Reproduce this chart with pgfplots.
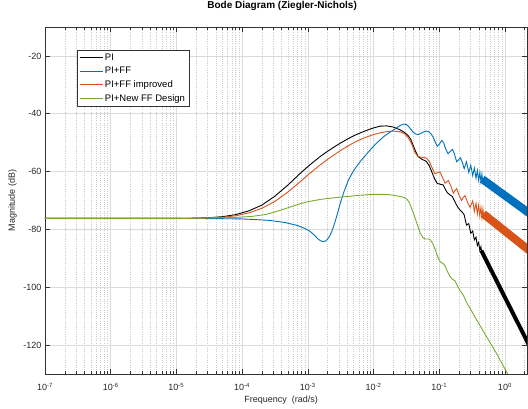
\documentclass[border=0pt]{standalone}
\usepackage{fontspec}
\setmainfont{Liberation Sans}
\usepackage{pgfplots}
\pgfplotsset{compat=1.18}
\definecolor{mblue}{RGB}{0,114,189}
\definecolor{morange}{RGB}{217,83,25}
\definecolor{mgreen}{RGB}{119,172,48}
\begin{document}
\begin{tikzpicture}
\useasboundingbox (-45pt,-35pt) rectangle (483pt,374pt);
\begin{axis}[
 scale only axis, width=482pt, height=347pt,
 xmin=-7, xmax=0.336, ymin=-130, ymax=-10,
 xtick={-7,-6,-5,-4,-3,-2,-1,0},
 xticklabels={10\textsuperscript{-7},10\textsuperscript{-6},10\textsuperscript{-5},10\textsuperscript{-4},10\textsuperscript{-3},10\textsuperscript{-2},10\textsuperscript{-1},10\textsuperscript{0}},
 minor xtick={-6.699,-6.523,-6.398,-6.301,-6.222,-6.155,-6.097,-6.046,
  -5.699,-5.523,-5.398,-5.301,-5.222,-5.155,-5.097,-5.046,
  -4.699,-4.523,-4.398,-4.301,-4.222,-4.155,-4.097,-4.046,
  -3.699,-3.523,-3.398,-3.301,-3.222,-3.155,-3.097,-3.046,
  -2.699,-2.523,-2.398,-2.301,-2.222,-2.155,-2.097,-2.046,
  -1.699,-1.523,-1.398,-1.301,-1.222,-1.155,-1.097,-1.046,
  -0.699,-0.523,-0.398,-0.301,-0.222,-0.155,-0.097,-0.046,0.301},
 ytick={-120,-100,-80,-60,-40,-20},
 /pgf/number format/assume math mode=true,
 xtick pos=both, ytick pos=both,
 tick align=inside, major tick length=5pt, minor tick length=3pt,
 xmajorgrids, xminorgrids, ymajorgrids,
 major grid style={color=black!14, line width=0.5pt},
 minor grid style={color=black!20, dash pattern=on 0.6pt off 1.6pt, line width=0.5pt},
 axis line style={black!80, line width=0.5pt},
 tick style={black!80, line width=0.5pt},
 font=\fontsize{9}{10}\selectfont,
 ticklabel style={text=black!85, font=\fontsize{9}{10}\selectfont},
 xticklabel style={anchor=base, yshift=-17pt},
 title={\bfseries Bode Diagram (Ziegler-Nichols)},
 title style={at={(axis description cs:0.492,1)}, anchor=base, yshift=12pt, font=\fontsize{10}{11}\selectfont},
 xlabel={Frequency\ \ (rad/s)},
 xlabel style={at={(axis description cs:0.49,0)}, anchor=base, yshift=-29pt, text=black!85},
 ylabel={Magnitude (dB)},
 ylabel style={at={(axis description cs:0,0.5)}, anchor=base, yshift=30pt, text=black!85},
 legend entries={PI, PI+FF, PI+FF improved, PI+New FF Design},
 legend style={at={(0.066,0.934)}, anchor=north west, draw=black!80, line width=0.5pt, fill=white,
   font=\fontsize{9.5}{11}\selectfont, inner xsep=2pt, inner ysep=1.5pt, row sep=1.5pt, cells={anchor=west}},
 legend image code/.code={\draw[#1] (0pt,0pt) -- (23pt,0pt);},
 every axis plot/.append style={line width=0.9pt},
]
% PI
\addplot[black] coordinates {
(-7,-76.2) (-5,-76.2) (-4.7,-76.1) (-4.5,-75.95) (-4.3,-75.6) (-4.1,-74.9) (-3.9,-73.6) (-3.7,-71.6)
(-3.5,-68.5) (-3.3,-64.6) (-3.1,-60.3) (-3.0,-58.3) (-2.9,-56.4) (-2.8,-54.6) (-2.7,-53.0) (-2.6,-51.5)
(-2.5,-50.1) (-2.4,-48.8) (-2.3,-47.6) (-2.2,-46.6) (-2.1,-45.7) (-2.0,-44.9) (-1.9,-44.3) (-1.8,-44.2)
(-1.7,-44.6) (-1.6,-45.5) (-1.52,-46.6) (-1.47,-47.6) (-1.43,-49.0) (-1.40,-50.7) (-1.36,-53.0)
(-1.32,-54.8) (-1.26,-55.8) (-1.20,-56.4)
(-1.15,-58.0) (-1.11,-60.3) (-1.07,-62.5) (-1.03,-64.1) (-0.98,-64.4) (-0.94,-64.6) (-0.91,-66.0)
(-0.88,-67.2) (-0.84,-68.0) (-0.80,-68.6) (-0.76,-70.5) (-0.72,-72.2) (-0.68,-73.4) (-0.65,-74.0)
(-0.62,-75.0) (-0.585,-78.5) (-0.55,-78.0) (-0.52,-81.3) (-0.49,-80.6) (-0.465,-83.6) (-0.44,-82.7)
(-0.42,-85.6) (-0.40,-84.5) (-0.382,-87.2) (-0.365,-86.0) (-0.35,-88.6)
};
% PI+FF
\addplot[mblue] coordinates {
(-7,-76.2) (-5,-76.2) (-4.5,-76.25) (-4.03,-76.35) (-3.8,-76.6) (-3.575,-76.9) (-3.35,-77.6)
(-3.164,-78.6) (-3.05,-79.6) (-2.97,-80.6) (-2.90,-82.0) (-2.845,-83.3) (-2.80,-84.0) (-2.77,-84.2)
(-2.73,-84.0) (-2.70,-83.4) (-2.66,-82.0) (-2.62,-79.8) (-2.58,-77.0) (-2.54,-73.8) (-2.51,-71.3)
(-2.45,-67.0) (-2.39,-63.4) (-2.33,-60.7) (-2.27,-58.6) (-2.19,-56.2) (-2.11,-54.1) (-2.03,-52.0)
(-1.96,-50.3) (-1.85,-48.0) (-1.75,-46.4) (-1.63,-44.6) (-1.58,-43.9) (-1.54,-43.6) (-1.50,-43.7)
(-1.47,-44.3) (-1.43,-45.4) (-1.40,-46.3) (-1.36,-47.0) (-1.32,-47.2) (-1.28,-46.8) (-1.24,-46.3)
(-1.20,-46.0) (-1.17,-46.1) (-1.13,-46.8) (-1.094,-48.0) (-1.06,-49.8) (-1.03,-51.2) (-1.00,-50.6)
(-0.96,-49.2) (-0.93,-50.2) (-0.90,-52.3) (-0.866,-53.8) (-0.83,-53.0) (-0.80,-52.3) (-0.77,-53.8)
(-0.734,-56.6) (-0.70,-55.8) (-0.68,-55.2) (-0.65,-56.6) (-0.62,-59.0) (-0.585,-56.6) (-0.55,-60.3)
(-0.52,-57.8) (-0.49,-61.4) (-0.465,-58.8) (-0.44,-62.3) (-0.42,-59.6) (-0.40,-63.0) (-0.382,-60.3)
(-0.365,-63.6) (-0.35,-60.9) (-0.335,-64.2)
};
% PI+FF improved
\addplot[morange] coordinates {
(-7,-76.2) (-5,-76.2) (-4.7,-76.15) (-4.5,-76.0) (-4.3,-75.8) (-4.1,-75.3) (-3.9,-74.3) (-3.7,-72.7)
(-3.5,-70.3) (-3.3,-67.0) (-3.1,-63.2) (-3.0,-61.2) (-2.9,-59.3) (-2.8,-57.5) (-2.7,-55.8) (-2.6,-54.2)
(-2.5,-52.7) (-2.4,-51.3) (-2.3,-50.0) (-2.2,-48.9) (-2.1,-48.0) (-2.0,-47.2) (-1.9,-46.6) (-1.8,-46.2)
(-1.7,-46.0) (-1.6,-46.2) (-1.53,-46.9)
(-1.475,-48.2) (-1.44,-49.5) (-1.41,-51.0) (-1.37,-53.4) (-1.33,-54.6) (-1.29,-55.0) (-1.24,-55.1)
(-1.19,-55.4) (-1.15,-56.6) (-1.114,-58.4) (-1.08,-60.2) (-1.064,-60.7) (-1.03,-60.4) (-0.99,-60.1)
(-0.95,-62.0) (-0.912,-64.0) (-0.88,-63.5) (-0.861,-63.1) (-0.82,-65.2) (-0.785,-67.5) (-0.76,-66.6)
(-0.734,-65.9) (-0.70,-68.0) (-0.66,-70.0) (-0.635,-69.0) (-0.607,-68.3) (-0.57,-70.6) (-0.53,-72.4)
(-0.49,-70.1) (-0.465,-73.8) (-0.44,-71.0) (-0.42,-74.6) (-0.40,-71.7) (-0.382,-75.3) (-0.365,-72.4)
(-0.35,-75.9) (-0.335,-72.9) (-0.32,-76.4)
};
% PI+New FF Design
\addplot[mgreen] coordinates {
(-7,-76.2) (-5,-76.2) (-4.64,-76.1) (-4.14,-75.9) (-3.85,-75.5) (-3.63,-74.8) (-3.42,-73.4)
(-3.22,-71.9) (-3.1,-71.0) (-2.97,-70.3) (-2.8,-69.6) (-2.62,-69.1) (-2.4,-68.6) (-2.205,-68.2)
(-2.01,-67.9) (-1.85,-67.9) (-1.75,-68.0) (-1.60,-68.6) (-1.53,-69.0) (-1.495,-69.5) (-1.46,-70.5)
(-1.44,-71.6) (-1.39,-74.5) (-1.34,-77.9) (-1.29,-81.2) (-1.25,-82.8) (-1.216,-83.3) (-1.17,-83.3)
(-1.14,-83.5) (-1.10,-84.8) (-1.064,-86.8) (-1.013,-90.0) (-0.98,-91.3) (-0.94,-91.8) (-0.91,-92.6)
(-0.88,-94.3) (-0.836,-96.3) (-0.80,-97.2) (-0.76,-97.8) (-0.72,-99.6) (-0.68,-101.3) (-0.655,-102.0)
(-0.63,-102.9) (-0.58,-105.4) (-0.50,-108.5) (-0.43,-111.3) (-0.277,-117.2) (-0.125,-123.0)
(0.027,-129.4) (0.1,-132.5)
};
% dense ripple bands at high frequency
\addplot[black, line width=4pt] coordinates {(-0.36,-87.3) (0.40,-121.5)};
\addplot[mblue, line width=8pt] coordinates {(-0.345,-62.6) (0.40,-74.9)};
\addplot[morange, line width=8pt] coordinates {(-0.33,-74.6) (0.40,-87.8)};
\end{axis}
\end{tikzpicture}
\end{document}
